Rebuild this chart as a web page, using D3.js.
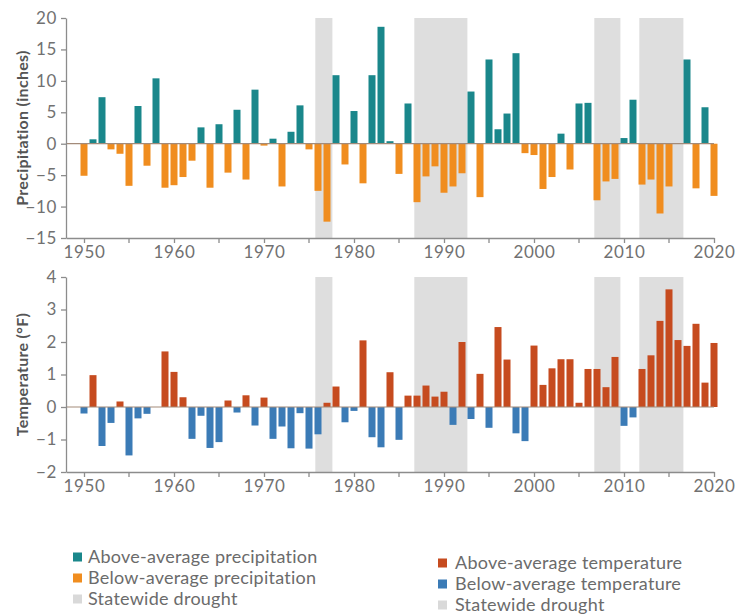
<!DOCTYPE html>
<html>
<head>
<meta charset="utf-8">
<script src="https://cdn.jsdelivr.net/npm/d3@7"></script>
<style>
  html, body { margin: 0; padding: 0; background: #fff; }
  svg { display: block; font-family: Lato, "Open Sans", sans-serif; }
</style>
</head>
<body>
<svg id="chart" width="748" height="616"></svg>
<script>
// Years shown on both panels
const years = [
  1950, 1951, 1952, 1953, 1954, 1955, 1956, 1957, 1958, 1959,
  1960, 1961, 1962, 1963, 1964, 1965, 1966, 1967, 1968, 1969,
  1970, 1971, 1972, 1973, 1974, 1975, 1976, 1977, 1978, 1979,
  1980, 1981, 1982, 1983, 1984, 1985, 1986, 1987, 1988, 1989,
  1990, 1991, 1992, 1993, 1994, 1995, 1996, 1997, 1998, 1999,
  2000, 2001, 2002, 2003, 2004, 2005, 2006, 2007, 2008, 2009,
  2010, 2011, 2012, 2013, 2014, 2015, 2016, 2017, 2018, 2019,
  2020
];

// Precipitation anomaly (inches), one value per year
const precipitation = [
  -5.1, 0.7, 7.4, -0.9, -1.6, -6.7, 6.0, -3.5, 10.4, -7.0,
  -6.6, -5.3, -2.7, 2.6, -7.0, 3.1, -4.6, 5.4, -5.7, 8.6,
  -0.3, 0.8, -6.8, 1.9, 6.1, -0.9, -7.5, -12.4, 10.9, -3.3,
  5.2, -6.3, 10.9, 18.6, 0.4, -4.8, 6.4, -9.3, -5.2, -3.6,
  -7.8, -6.8, -4.7, 8.3, -8.5, 13.4, 2.3, 4.8, 14.4, -1.5,
  -1.8, -7.2, -5.3, 1.6, -4.1, 6.4, 6.5, -9.0, -6.0, -5.6,
  0.9, 7.0, -6.5, -5.7, -11.1, -6.8, 0.1, 13.4, -7.1, 5.8,
  -8.3
];

// Temperature anomaly (°F), one value per year
const temperature = [
  -0.2, 0.98, -1.2, -0.49, 0.17, -1.49, -0.35, -0.21, 0.0, 1.71,
  1.08, 0.3, -0.98, -0.27, -1.26, -1.08, 0.2, -0.17, 0.36, -0.57,
  0.29, -0.98, -0.6, -1.27, -0.19, -1.28, -0.84, 0.13, 0.63, -0.47,
  -0.12, 2.05, -0.93, -1.24, 1.07, -1.01, 0.35, 0.35, 0.66, 0.32,
  0.47, -0.55, 2.0, -0.37, 1.02, -0.64, 2.46, 1.46, -0.81, -1.05,
  1.89, 0.68, 1.19, 1.47, 1.47, 0.13, 1.17, 1.17, 0.61, 1.54,
  -0.58, -0.32, 1.17, 1.59, 2.65, 3.62, 2.06, 1.88, 2.56, 0.75,
  1.97
];

// Statewide drought periods (first year, last year)
const droughtStart = [1976, 1987, 2007, 2012];
const droughtEnd   = [1977, 1992, 2009, 2016];

// Axis ticks
const xMajorTicks = [1950, 1960, 1970, 1980, 1990, 2000, 2010, 2020];
const xMinorTicks = [1955, 1965, 1975, 1985, 1995, 2005, 2015];
const precipTicks = [-15, -10, -5, 0, 5, 10, 15, 20];
const tempTicks = [-2, -1, 0, 1, 2, 3, 4];

const colors = {
  precipAbove: "#1a878b",
  precipBelow: "#f08d1f",
  tempAbove: "#c64b1f",
  tempBelow: "#3b7bb6",
  drought: "#dedede",
  axis: "#8c8c8c",
  tickText: "#717171",
  title: "#555555",
  zero: "#a38b7a",
  legendText: "#6b6b6b"
};

const svg = d3.select("#chart");

const x = d3.scaleLinear().domain([1948, 2020]).range([66, 714]);
const barW = 7;
const intFormat = d3.format("d");

const droughts = droughtStart.map((s, i) => ({ start: s, end: droughtEnd[i] }));

function panel(cfg) {
  const g = svg.append("g");
  const y = d3.scaleLinear().domain(cfg.domain).range([cfg.bottom, cfg.top]);
  const rows = years.map((yr, i) => ({ year: yr, value: cfg.values[i] }));

  // drought shading
  g.append("g").selectAll("rect").data(droughts).join("rect")
    .attr("x", d => x(d.start - 0.3))
    .attr("width", d => x(d.end + 0.6) - x(d.start - 0.3))
    .attr("y", cfg.top)
    .attr("height", cfg.bottom - cfg.top)
    .attr("fill", colors.drought);

  // bars
  g.append("g").selectAll("rect").data(rows).join("rect")
    .attr("x", d => x(d.year) - barW / 2)
    .attr("width", barW)
    .attr("y", d => y(Math.max(0, d.value)))
    .attr("height", d => Math.abs(y(d.value) - y(0)))
    .attr("fill", d => d.value >= 0 ? cfg.above : cfg.below);

  // zero line
  g.append("line")
    .attr("x1", x.range()[0]).attr("x2", x.range()[1])
    .attr("y1", y(0)).attr("y2", y(0))
    .attr("stroke", colors.zero).attr("stroke-width", 1.2);

  // y axis
  const yAxis = g.append("g")
    .attr("transform", `translate(${x.range()[0]},0)`)
    .call(d3.axisLeft(y).tickValues(cfg.ticks).tickFormat(intFormat)
      .tickSize(5).tickSizeOuter(0).tickPadding(4));

  // x axis with labelled decades
  const xAxis = g.append("g")
    .attr("transform", `translate(0,${cfg.bottom})`)
    .call(d3.axisBottom(x).tickValues(xMajorTicks).tickFormat(intFormat)
      .tickSize(5).tickSizeOuter(0).tickPadding(3));

  // unlabelled half-decade ticks
  xAxis.append("g").selectAll("line").data(xMinorTicks).join("line")
    .attr("x1", d => x(d)).attr("x2", d => x(d))
    .attr("y1", 0).attr("y2", 5)
    .attr("stroke", colors.axis).attr("stroke-width", 1.3);

  [yAxis, xAxis].forEach(a => {
    a.select(".domain").attr("stroke", colors.axis).attr("stroke-width", 1.3);
    a.selectAll(".tick line").attr("stroke", colors.axis).attr("stroke-width", 1.3);
    a.selectAll(".tick text")
      .attr("fill", colors.tickText)
      .style("font-size", "17px")
      .style("letter-spacing", "0.6px")
      .style("font-family", "Lato, sans-serif");
  });

  // axis title
  g.append("text")
    .attr("transform", `translate(22,${(cfg.top + cfg.bottom) / 2}) rotate(-90)`)
    .attr("text-anchor", "middle")
    .attr("dy", "0.35em")
    .attr("fill", colors.title)
    .style("font-size", "16px")
    .style("letter-spacing", "0.3px")
    .style("font-weight", "bold")
    .text(cfg.title);
}

panel({
  values: precipitation,
  domain: [-15, 20],
  top: 18, bottom: 238,
  ticks: precipTicks,
  above: colors.precipAbove, below: colors.precipBelow,
  title: "Precipitation (inches)"
});

panel({
  values: temperature,
  domain: [-2, 4],
  top: 277, bottom: 472,
  ticks: tempTicks,
  above: colors.tempAbove, below: colors.tempBelow,
  title: "Temperature (°F)"
});

// legends
function legend(items, sx, tx, y0) {
  const g = svg.append("g");
  items.forEach((it, i) => {
    const cy = y0 + i * 21;
    g.append("rect").attr("x", sx).attr("y", cy - 4.5).attr("width", 9).attr("height", 9)
      .attr("fill", it.color);
    g.append("text").attr("x", tx).attr("y", cy).attr("dy", "0.35em")
      .attr("fill", colors.legendText)
      .style("font-size", "18px")
      .style("letter-spacing", "0.25px")
      .text(it.label);
  });
}

legend([
  { label: "Above-average precipitation", color: colors.precipAbove },
  { label: "Below-average precipitation", color: colors.precipBelow },
  { label: "Statewide drought", color: "#d9d9d9" }
], 73, 88, 557);

legend([
  { label: "Above-average temperature", color: colors.tempAbove },
  { label: "Below-average temperature", color: colors.tempBelow },
  { label: "Statewide drought", color: "#d9d9d9" }
], 438, 455, 563);
</script>
</body>
</html>
